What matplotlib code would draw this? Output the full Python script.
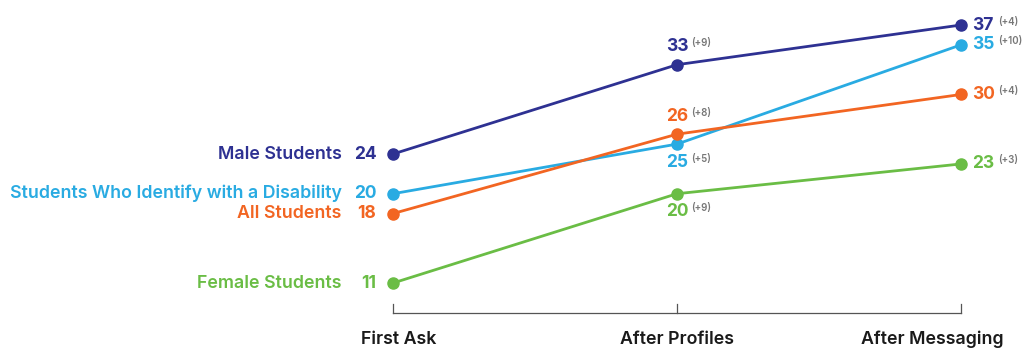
import matplotlib
matplotlib.use("Agg")
import matplotlib.pyplot as plt

plt.rcParams['font.family'] = ['Inter', 'DejaVu Sans']

categories = ['First Ask', 'After Profiles', 'After Messaging']
groups = ['Male Students', 'Students Who Identify with a Disability', 'All Students', 'Female Students']
male = [24, 33, 37]
disability = [20, 25, 35]
all_students = [18, 26, 30]
female = [11, 20, 23]

series = [male, disability, all_students, female]
colors = ['#2e3192', '#29abe2', '#f26522', '#6abd45']
mid_above = [True, False, True, False]

fig = plt.figure(figsize=(10.26, 3.52), dpi=100)
ax = fig.add_axes([0, 0, 1, 1])
px = 284.0
ax.set_xlim(-393 / px, 2 + 65 / px)
ax.set_ylim(4.05, 39.52)
ax.axis('off')

x = list(range(len(categories)))
for name, vals, c, above in zip(groups, series, colors, mid_above):
    ax.plot(x, vals, color=c, lw=2.0, marker='o', ms=8, zorder=3, solid_capstyle='round')
    # left side: group label + start value
    ax.annotate(str(vals[0]), (x[0], vals[0]), xytext=(-12, 0), textcoords='offset points',
                ha='right', va='center', color=c, fontsize=12.5, fontweight='bold')
    ax.annotate(name, (x[0], vals[0]), xytext=(-37, 0), textcoords='offset points',
                ha='right', va='center', color=c, fontsize=12.8, fontweight='semibold')
    # middle value
    dy = 13 if above else -13
    ax.annotate(str(vals[1]), (x[1], vals[1]), xytext=(0, dy), textcoords='offset points',
                ha='center', va='center', color=c, fontsize=12.5, fontweight='bold')
    ax.annotate('(+%d)' % (vals[1] - vals[0]), (x[1], vals[1]), xytext=(10, dy + 2.5),
                textcoords='offset points', ha='left', va='center', color='#777777',
                fontsize=7, fontweight='semibold')
    # right value
    ax.annotate(str(vals[2]), (x[2], vals[2]), xytext=(8, 0), textcoords='offset points',
                ha='left', va='center', color=c, fontsize=12.5, fontweight='bold')
    ax.annotate('(+%d)' % (vals[2] - vals[1]), (x[2], vals[2]), xytext=(27, 2.5),
                textcoords='offset points', ha='left', va='center', color='#777777',
                fontsize=7, fontweight='semibold')

# bracket-style axis
ax.plot([x[0], x[-1]], [8.0, 8.0], color='#555555', lw=0.9, zorder=1)
for xi in x:
    ax.plot([xi, xi], [8.0, 8.85], color='#555555', lw=0.9, zorder=1)

label_shift = [4, 0, -21]
for xi, lab, s in zip(x, categories, label_shift):
    ax.annotate(lab, (xi, 5.3), xytext=(s, 0), textcoords='offset points',
                ha='center', va='center', color='#1a1a1a', fontsize=12.8, fontweight='semibold')

fig.savefig('out.png', dpi=100)
